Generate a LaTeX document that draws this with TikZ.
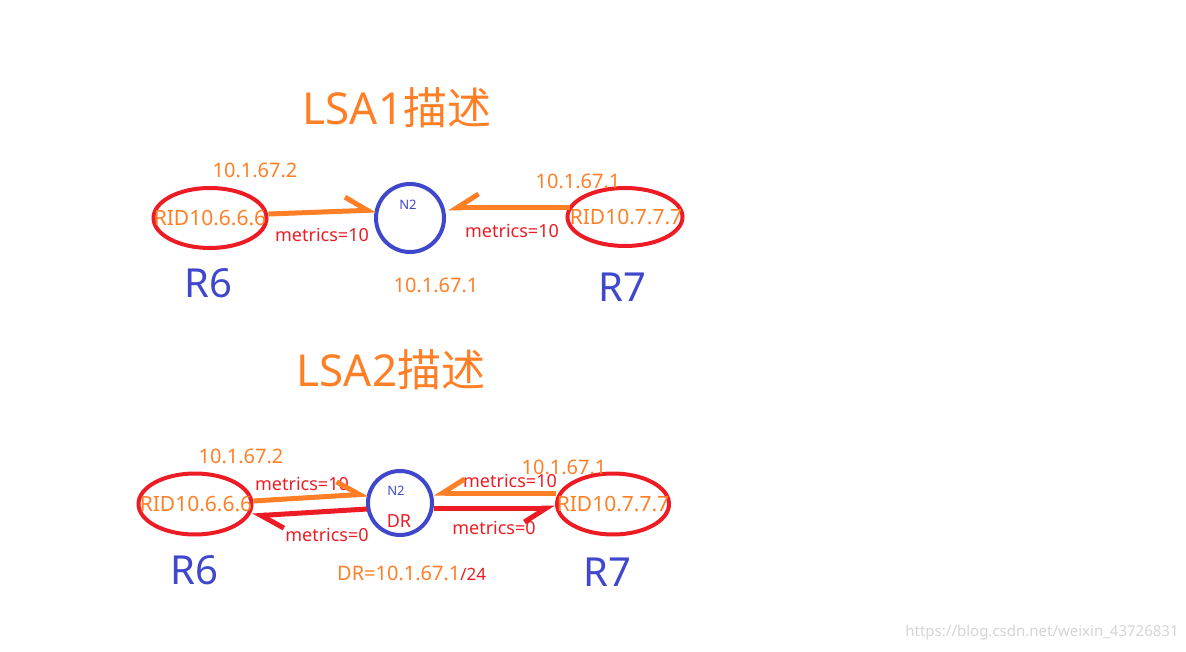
\documentclass[tikz,border=0pt]{standalone}
\usepackage{fontspec}
\setmainfont{Noto Sans}
\newfontfamily\cjk{Noto Sans CJK SC}
\usetikzlibrary{shapes.geometric,arrows.meta}
\definecolor{orng}{HTML}{FF7F27}
\definecolor{rd}{HTML}{ED1C24}
\definecolor{bl}{HTML}{3F48CC}
\definecolor{wm}{HTML}{D4D4D4}
\tikzset{
  rtr/.style={draw=rd, line width=4pt, ellipse, inner sep=0pt},
  net/.style={draw=bl, line width=4pt, circle, inner sep=0pt, minimum size=#1},
  txt/.style={inner sep=0pt, anchor=center},
  ttl/.style={txt, text=orng, font=\fontsize{44}{48}\selectfont},
  ridtxt/.style={txt, text=orng, font=\fontsize{21}{24}\selectfont},
  iptxt/.style={txt, text=orng, font=\fontsize{20}{23}\selectfont},
  mettxt/.style={txt, text=rd, font=\fontsize{18}{21}\selectfont},
  rname/.style={txt, text=bl, font=\fontsize{40}{44}\selectfont},
  nname/.style={txt, text=bl, font=\fontsize{13}{15}\selectfont},
  barbup/.style={line width=5pt, -{Straight Barb[left, length=22pt, width=28pt]}},
  barbdn/.style={line width=5pt, -{Straight Barb[right, length=22pt, width=28pt]}},
}
\begin{document}
\begin{tikzpicture}[x=1pt, y=-1pt]
\useasboundingbox (0,0) rectangle (1186,652);
% ---------- LSA1 ----------
\node[ttl] (t1) at (397,108) {LSA1{\cjk 描述}};
\node[rtr, minimum width=113pt, minimum height=60pt] (r6a) at (210,218) {};
\node[ridtxt] (r6atx) at (210,218) {RID10.6.6.6};
\node[net=68pt] (n2a) at (410,218) {};
\node[nname] (n2atx) at (408,205) {N2};
\node[rtr, minimum width=115pt, minimum height=58pt] (r7a) at (625,217) {};
\node[ridtxt] (r7atx) at (626,217) {RID10.7.7.7};
\node[iptxt] (ip1a) at (255,170) {10.1.67.2};
\node[iptxt] (ip2a) at (578,181) {10.1.67.1};
\node[iptxt] (ip3a) at (436,285) {10.1.67.1};
\node[mettxt] (m1a) at (322,235) {metrics=10};
\node[mettxt] (m2a) at (512,231) {metrics=10};
\node[rname] (r6an) at (208,283) {R6};
\node[rname] (r7an) at (622,287) {R7};
\draw[barbup, draw=orng] ([yshift=4pt]r6a.east) -- ([xshift=2pt,yshift=8pt]n2a.west);
\draw[barbdn, draw=orng] ([xshift=4pt,yshift=9pt]r7a.west) -- ([xshift=2pt,yshift=10pt]n2a.east);
% ---------- LSA2 ----------
\node[ttl] (t2) at (391,370) {LSA2{\cjk 描述}};
\node[rtr, minimum width=113pt, minimum height=61pt] (r6b) at (195,504) {};
\node[ridtxt] (r6btx) at (196,504) {RID10.6.6.6};
\node[net=64pt] (n2b) at (400,503) {};
\node[nname] (n2btx) at (396,491) {N2};
\node[txt, text=rd, font=\fontsize{18}{21}\selectfont] (drb) at (399,521) {DR};
\node[rtr, minimum width=112pt, minimum height=61pt] (r7b) at (613,504) {};
\node[ridtxt] (r7btx) at (613,504) {RID10.7.7.7};
\node[iptxt] (ip1b) at (241,456) {10.1.67.2};
\node[iptxt] (ip2b) at (564,467) {10.1.67.1};
\node[mettxt] (m1b) at (302,484) {metrics=10};
\node[mettxt] (m2b) at (327,535) {metrics=0};
\node[mettxt] (m3b) at (510,481) {metrics=10};
\node[mettxt] (m4b) at (494,528) {metrics=0};
\node[rname] (r6bn) at (194,570) {R6};
\node[rname] (r7bn) at (607,572) {R7};
\node[txt, anchor=base west, text=orng, font=\fontsize{20}{23}\selectfont] (drl) at (337,580) {DR=10.1.67.1{\color{rd}\fontsize{17}{20}\selectfont/24}};
\draw[barbup, draw=orng] ([yshift=3pt]r6b.east) -- ([xshift=2pt,yshift=9pt]n2b.west);
\draw[barbup, draw=rd] ([xshift=1pt,yshift=-6pt]n2b.west) -- ([xshift=-1pt,yshift=-12pt]r6b.east);
\draw[barbdn, draw=orng] ([xshift=1pt,yshift=11pt]r7b.west) -- ([yshift=10pt]n2b.east);
\draw[barbdn, draw=rd] ([yshift=-5pt]n2b.east) -- ([yshift=-4pt]r7b.west);
% watermark
\node[txt, text=wm, font=\fontsize{15}{18}\selectfont] (wmk) at (1042,633) {https://blog.csdn.net/weixin\_43726831};
\end{tikzpicture}
\end{document}
